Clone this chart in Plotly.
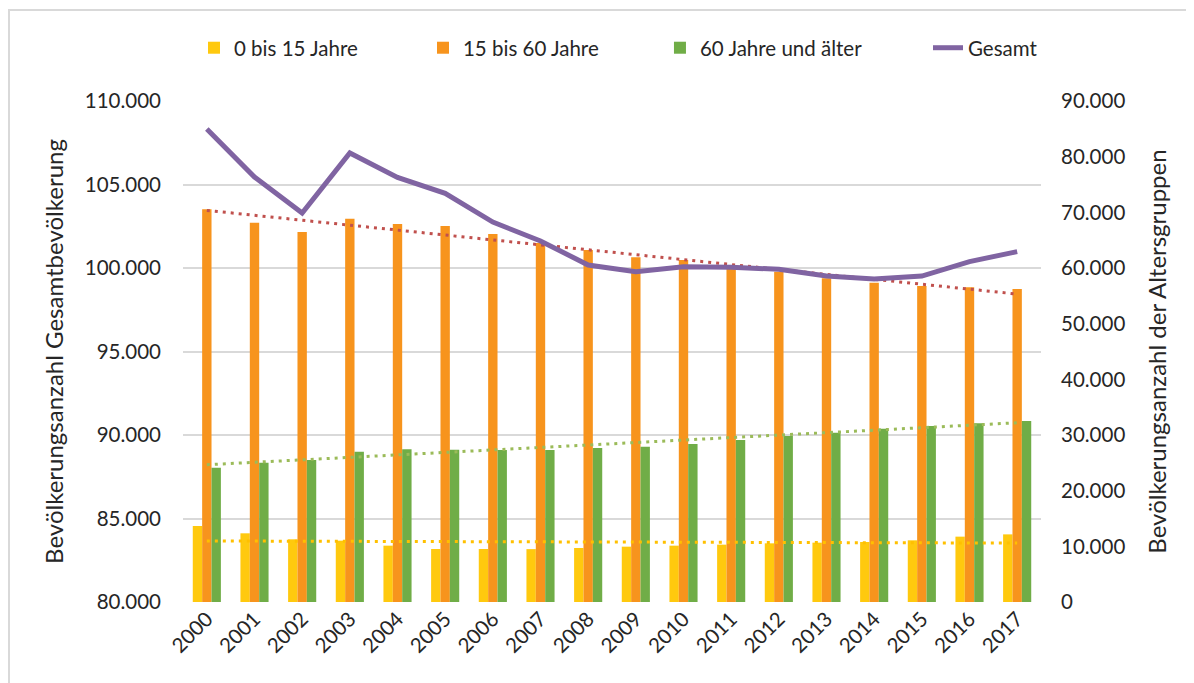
import numpy as np
import plotly.graph_objects as go

years = [str(y) for y in range(2000, 2018)]
jung = [13650, 12340, 11260, 11020, 10120, 9520, 9520, 9500, 9700, 9940,
        10120, 10300, 10540, 10660, 10780, 11080, 11740, 12150]
mittel = [70550, 68140, 66470, 68860, 67900, 67550, 66100, 64500, 63230, 61920,
          61440, 59940, 59340, 58150, 57360, 56770, 56530, 56230]
alt = [24130, 25030, 25510, 27000, 27420, 27360, 27300, 27300, 27660, 27900,
       28380, 29100, 29820, 30420, 31140, 31620, 32100, 32510]
gesamt = [108320, 105450, 103290, 106890, 105420, 104470, 102750, 101620, 100180, 99780,
          100080, 100050, 99920, 99520, 99340, 99520, 100380, 100980]

names = ["0 bis 15 Jahre", "15 bis 60 Jahre", "60 Jahre und älter", "Gesamt"]
bar_colors = ["#FFC90E", "#F7941D", "#70AD47"]
trend_colors = ["#FFC000", "#C0504D", "#9BBB59"]
line_color = "#8064A2"
legend_ids = ["legend", "legend2", "legend3", "legend4"]
legend_x = [0.0128, 0.2797, 0.5559, 0.8683]

idx = np.arange(len(years))
fig = go.Figure()
for vals, name, col, lg in zip([jung, mittel, alt], names[:3], bar_colors, legend_ids[:3]):
    fig.add_trace(go.Bar(x=years, y=vals, name=name, marker=dict(color=col, line=dict(width=0)),
                         yaxis="y", legend=lg))
for vals, col in zip([jung, mittel, alt], trend_colors):
    k, d = np.polyfit(idx, vals, 1)
    fig.add_trace(go.Scatter(x=years, y=k * idx + d, mode="lines", showlegend=False,
                             line=dict(color=col, width=3, dash="3px,5px"), yaxis="y",
                             hoverinfo="skip"))
fig.add_trace(go.Scatter(x=years, y=gesamt, name=names[3], mode="lines",
                         line=dict(color=line_color, width=5), yaxis="y2", legend=legend_ids[3]))

font = "Lato, Open Sans, sans-serif"
txt = "#262626"
fs = 20.5
legends = {}
for lg, lx in zip(legend_ids, legend_x):
    legends[lg] = dict(orientation="h", x=lx, xanchor="left", y=1.106, yanchor="middle",
                       font=dict(size=fs, color=txt), bgcolor="rgba(0,0,0,0)", itemwidth=30)

fig.update_layout(
    width=1186, height=675,
    margin=dict(l=175, r=153, t=93, b=81, autoexpand=False),
    paper_bgcolor="white", plot_bgcolor="white",
    separators=",.",
    barmode="group", bargap=0.41, bargroupgap=0,
    font=dict(family=font, size=fs, color=txt),
    xaxis=dict(tickangle=-45, showgrid=False, showline=False, ticks="",
               tickfont=dict(size=fs, color=txt)),
    yaxis=dict(side="right", range=[0, 90000], dtick=10000, tickformat=",d",
               showgrid=False, zeroline=False, showline=False, ticklabelstandoff=19,
               title=dict(text="Bevölkerungsanzahl der Altersgruppen", font=dict(size=24), standoff=24)),
    yaxis2=dict(side="left", overlaying="y", range=[80000, 110000], dtick=5000, tickformat=",d",
                showgrid=True, gridcolor="#D9D9D9", gridwidth=2, zeroline=False, showline=False,
                ticklabelstandoff=21,
                title=dict(text="Bevölkerungsanzahl Gesamtbevölkerung", font=dict(size=24), standoff=14)),
    shapes=[dict(type="rect", xref="paper", yref="paper", x0=-0.2028, x1=1.25, y0=-0.25, y1=1.1816,
                 line=dict(color="#D9D9D9", width=2), fillcolor="rgba(0,0,0,0)", layer="below")],
    **legends,
)
fig.write_html("out.html")
